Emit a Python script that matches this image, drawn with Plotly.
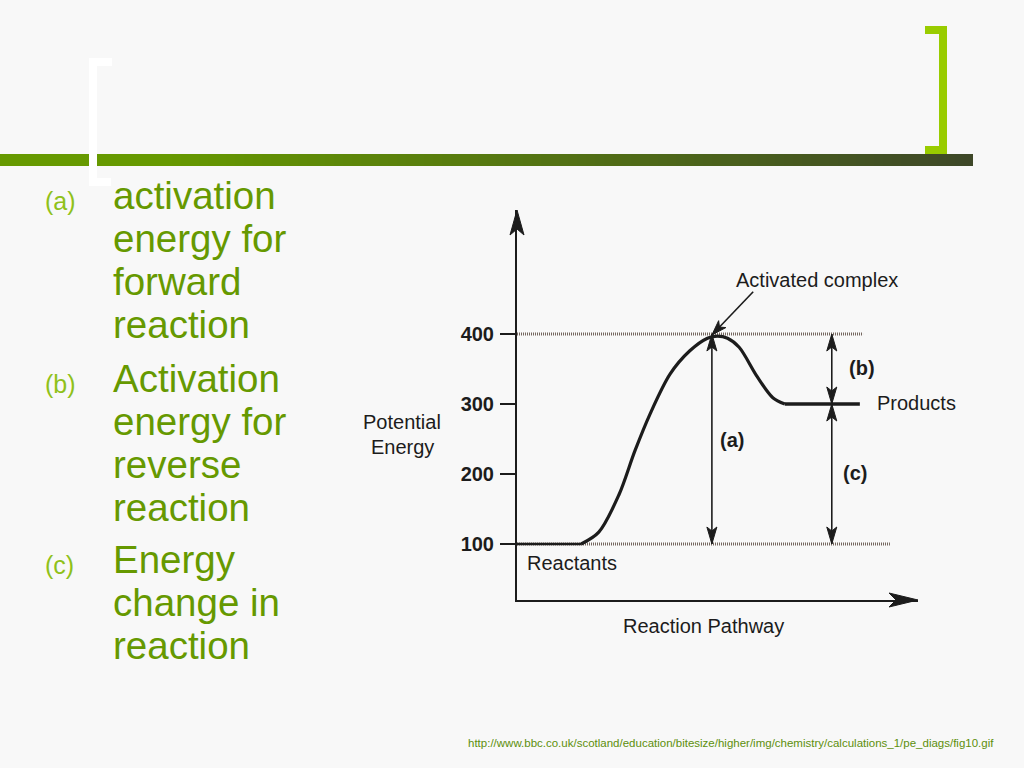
import plotly.graph_objects as go

# ---------------- data ----------------
energy_tick_values = [100, 200, 300, 400]
energy_tick_labels = ["100", "200", "300", "400"]

reactant_level = 100
complex_level = 400
product_level = 300

reactant_x = [0, 16]
reactant_y = [100, 100]
curve_x = [16, 20.4, 25.4, 29.4, 33.2, 38.2, 43.1, 47.5, 50.0, 52.5, 55.4, 59.9, 63.8, 66.8]
curve_y = [100, 117, 170, 233, 286, 343, 376, 394, 397, 394, 381, 339, 309, 300]
product_x = [66.8, 85.5]
product_y = [300, 300]

guide_levels = [400, 100]
guide_ends = [86.3, 93.0]

arrow_a_x = 48.6
arrow_bc_x = 78.5
complex_arrow_tail = (58.9, 460.4)
complex_arrow_tip = (48.6, 398.6)

bullet_labels = ["(a)", "(b)", "(c)"]
bullet_lines = [
    ["activation", "energy for", "forward", "reaction"],
    ["Activation", "energy for", "reverse", "reaction"],
    ["Energy", "change in", "reaction"],
]
source_url = ("http://www.bbc.co.uk/scotland/education/bitesize/higher/img/"
              "chemistry/calculations_1/pe_diags/fig10.gif")

# ---------------- styling / geometry ----------------
W, H = 1024, 768
BG = "#f8f8f8"
INK = "#1c1c1c"
GREEN = "#669900"
LIGHT_GREEN = "#8fc11a"
BRACKET_GREEN = "#99cc00"
FONT = "Liberation Sans, Arial, sans-serif"

X_PX = (517, 918)      # pixel span of x range
Y_PX = (600, 210)      # pixel span of y range (bottom, top)
X_RANGE = [0, 100]
Y_RANGE = [20, 577.14]
PX_PER_X = (X_PX[1] - X_PX[0]) / (X_RANGE[1] - X_RANGE[0])
PX_PER_Y = (Y_PX[0] - Y_PX[1]) / (Y_RANGE[1] - Y_RANGE[0])
X_DOM = [X_PX[0] / W, X_PX[1] / W]
Y_DOM = [1 - Y_PX[0] / H, 1 - Y_PX[1] / H]


def px(x):
    return x / W


def py(y):
    return 1 - y / H


def rect(x0, y0, x1, y1, color):
    return dict(type="rect", xref="paper", yref="paper",
                x0=px(x0), x1=px(x1), y0=py(y1), y1=py(y0),
                fillcolor=color, line=dict(width=0), layer="above")


def head(xa, ya, ux, uy, L, Wd, N, color=INK, ref="data"):
    n = (ux ** 2 + uy ** 2) ** 0.5
    ux, uy = ux / n, uy / n
    qx, qy = -uy, ux
    pts = [(0, 0),
           (-L * ux + Wd * qx, -L * uy + Wd * qy),
           (-(L - N) * ux, -(L - N) * uy),
           (-L * ux - Wd * qx, -L * uy - Wd * qy)]
    path = "M " + " L ".join(f"{a:.2f},{b:.2f}" for a, b in pts) + " Z"
    xr, yr = ("x", "y") if ref == "data" else ("paper", "paper")
    return dict(type="path", xref=xr, yref=yr, xsizemode="pixel",
                ysizemode="pixel", xanchor=xa, yanchor=ya, path=path,
                fillcolor=color, line=dict(color=color, width=1), layer="above")


def seg(x0, y0, x1, y1, width=1.6, color=INK):
    return dict(type="line", xref="x", yref="y", x0=x0, y0=y0, x1=x1, y1=y1,
                line=dict(color=color, width=width), layer="above")


fig = go.Figure()

# dotted guide lines
for lvl, end in zip(guide_levels, guide_ends):
    fig.add_trace(go.Scatter(x=[0, end], y=[lvl, lvl], mode="lines",
                             line=dict(color="#75675f", width=3, dash="1px,1px"),
                             hoverinfo="skip"))

# energy profile
fig.add_trace(go.Scatter(x=reactant_x, y=reactant_y, mode="lines",
                         line=dict(color=INK, width=2.6), hoverinfo="skip"))
fig.add_trace(go.Scatter(x=curve_x, y=curve_y, mode="lines",
                         line=dict(color=INK, width=3.2, shape="spline", smoothing=0.9),
                         hoverinfo="skip"))
fig.add_trace(go.Scatter(x=product_x, y=product_y, mode="lines",
                         line=dict(color=INK, width=3.6), hoverinfo="skip"))

shapes = []
# ---- slide decoration: gradient bar and brackets ----
shapes.append(rect(0, 154, 164, 166, GREEN))
c0 = (102, 153, 0)
c1 = (62, 72, 40)
n_seg = 90
x_start, x_end = 163, 973
for i in range(n_seg):
    t = i / (n_seg - 1)
    col = tuple(round(c0[k] + (c1[k] - c0[k]) * t) for k in range(3))
    xa = x_start + (x_end - x_start) * i / n_seg
    xb = x_start + (x_end - x_start) * (i + 1) / n_seg + 0.6
    shapes.append(rect(xa, 154, min(xb, x_end), 166, "rgb(%d,%d,%d)" % col))
# white left bracket
shapes.append(rect(89, 58, 97, 186, "#ffffff"))
shapes.append(rect(89, 58, 112, 66, "#ffffff"))
shapes.append(rect(89, 178, 111, 186, "#ffffff"))
# green right bracket
shapes.append(rect(939, 26, 947, 154, BRACKET_GREEN))
shapes.append(rect(925, 26, 947, 34, BRACKET_GREEN))
shapes.append(rect(925, 146, 947, 154, BRACKET_GREEN))

# ---- axis arrowheads (at the axis-domain corners) ----
shapes.append(head(X_DOM[0], Y_DOM[1], 0, 1, L=25, Wd=7, N=6, ref="paper"))
shapes.append(head(X_DOM[1], Y_DOM[0], 1, 0, L=29, Wd=7, N=7, ref="paper"))

# ---- double arrows (a), (b), (c) ----
HL, HW, HN = 17, 5, 4
shapes.append(seg(arrow_a_x, reactant_level, arrow_a_x, complex_level))
shapes.append(head(arrow_a_x, complex_level, 0, 1, HL, HW, HN))
shapes.append(head(arrow_a_x, reactant_level, 0, -1, HL, HW, HN))
shapes.append(seg(arrow_bc_x, product_level, arrow_bc_x, complex_level))
shapes.append(head(arrow_bc_x, complex_level, 0, 1, HL, HW, HN))
shapes.append(head(arrow_bc_x, product_level, 0, -1, HL, HW, HN))
shapes.append(seg(arrow_bc_x, reactant_level, arrow_bc_x, product_level))
shapes.append(head(arrow_bc_x, product_level, 0, 1, HL, HW, HN))
shapes.append(head(arrow_bc_x, reactant_level, 0, -1, HL, HW, HN))

# activated complex pointer
tx, ty = complex_arrow_tail
hx, hy = complex_arrow_tip
shapes.append(seg(tx, ty, hx, hy))
shapes.append(head(hx, hy, (hx - tx) * PX_PER_X, (hy - ty) * PX_PER_Y, 15, 5, 4))

annotations = []


def ctext(x, y, text, size=20, bold=False, xanchor="center"):
    annotations.append(dict(x=x, y=y, xref="x", yref="y", text=text, showarrow=False,
                            xanchor=xanchor, yanchor="middle",
                            font=dict(family=FONT, size=size, color=INK,
                                      weight="bold" if bold else "normal")))


def ptext(xpix, ypix, text, size=20, color=INK, xanchor="center"):
    annotations.append(dict(x=px(xpix), y=py(ypix), xref="paper", yref="paper",
                            text=text, showarrow=False, xanchor=xanchor,
                            yanchor="middle",
                            font=dict(family=FONT, size=size, color=color)))


ctext(74.8, 477, "Activated complex")
ctext(89.4, 302, "Products", xanchor="left")
ctext(2.0, 73, "Reactants", xanchor="left")
ctext(53.7, 248, "(a)", bold=True)
ctext(86.0, 351, "(b)", bold=True)
ctext(84.2, 201, "(c)", bold=True)
ptext(703, 626, "Reaction Pathway")
ptext(402, 422, "Potential")
ptext(402, 447, "Energy")

# ---- slide bullet text ----
first_baselines = [209, 392, 573]
PITCH = 43
MAIN_SIZE = 38.5
LABEL_SIZE = 25
for lab, lines, base in zip(bullet_labels, bullet_lines, first_baselines):
    ptext(43, base - 0.3465 * LABEL_SIZE + 1, lab, size=LABEL_SIZE,
          color=LIGHT_GREEN, xanchor="left")
    for i, line in enumerate(lines):
        b = base + PITCH * i
        ptext(111, b - 0.3465 * MAIN_SIZE, line, size=MAIN_SIZE,
              color=GREEN, xanchor="left")

ptext(996, 743, source_url, size=11.5, color="#5d8f0c", xanchor="right")

fig.update_layout(
    width=W, height=H,
    margin=dict(l=0, r=0, t=0, b=0),
    paper_bgcolor=BG, plot_bgcolor="rgba(0,0,0,0)",
    showlegend=False,
    shapes=shapes,
    annotations=annotations,
    xaxis=dict(domain=X_DOM, range=X_RANGE,
               showgrid=False, zeroline=False, showticklabels=False, ticks="",
               showline=True, linecolor=INK, linewidth=2, fixedrange=True),
    yaxis=dict(domain=Y_DOM, range=Y_RANGE,
               showgrid=False, zeroline=False, showline=True, linecolor=INK,
               linewidth=2, ticks="outside", ticklen=15, tickwidth=2,
               tickcolor=INK, tickvals=energy_tick_values,
               ticktext=energy_tick_labels, ticklabelstandoff=2,
               tickfont=dict(family=FONT, size=20, color=INK, weight="bold"),
               fixedrange=True),
)

fig.write_html(
    "out.html",
    config={"displayModeBar": False, "staticPlot": True},
    post_script="document.body.style.margin='0';"
                "document.body.style.background='#f8f8f8';",
)
